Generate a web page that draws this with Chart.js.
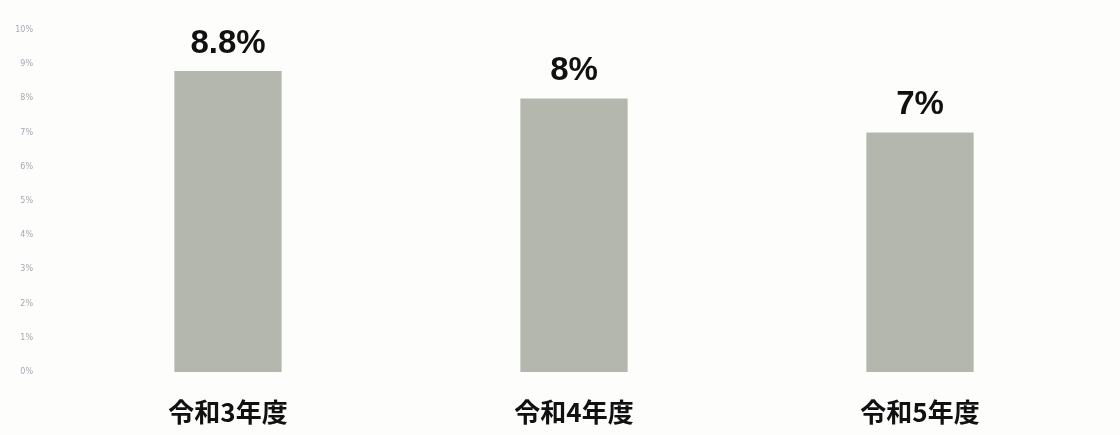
<!DOCTYPE html>
<html>
<head>
<meta charset="utf-8">
<script src="https://cdn.jsdelivr.net/npm/chart.js@4/dist/chart.umd.min.js"></script>
<style>
  html, body { margin: 0; padding: 0; background: #fdfdfc; }
  #wrap { width: 1120px; height: 435px; }
</style>
</head>
<body>
<div id="wrap"><canvas id="grafica"></canvas></div>
<script>
// datos de la grafica
var categorias = ["令和3年度", "令和4年度", "令和5年度"];
var valores = [8.8, 8, 7];
var ticksY = ["0%", "1%", "2%", "3%", "4%", "5%", "6%", "7%", "8%", "9%", "10%"];

// etiquetas de valor encima de cada barra
var etiquetasValor = {
    id: "etiquetasValor",
    afterDatasetsDraw: function(chart) {
        var ctx = chart.ctx;
        var meta = chart.getDatasetMeta(0);
        ctx.save();
        ctx.fillStyle = "#111";
        ctx.font = "bold 33px 'Liberation Sans', 'Noto Sans', sans-serif";
        ctx.textAlign = "center";
        ctx.textBaseline = "bottom";
        meta.data.forEach(function(bar, i) {
            ctx.fillText(valores[i] + "%", bar.x, bar.y - 11);
        });
        ctx.restore();
    }
};

var ctx = document.getElementById("grafica");
var grafica = new Chart(ctx, {
    type: "bar",
    data: {
        labels: categorias,
        datasets: [{
            data: valores,
            backgroundColor: "#b3b7ad",
            borderWidth: 0,
            barPercentage: 0.31,
            categoryPercentage: 1
        }]
    },
    options: {
        responsive: true,
        maintainAspectRatio: false,
        animation: false,
        layout: { padding: { top: 30, right: 27, left: 0, bottom: 0 } },
        plugins: {
            legend: { display: false },
            tooltip: { enabled: false }
        },
        scales: {
            x: {
                grid: { display: false },
                border: { display: false },
                ticks: {
                    color: "#111",
                    padding: 17,
                    font: { family: "'Noto Sans CJK JP', sans-serif", size: 26, weight: "bold" }
                },
                afterFit: function(scale) { scale.height = 63; }
            },
            y: {
                min: 0,
                max: 10,
                grid: { display: false },
                border: { display: false },
                ticks: {
                    stepSize: 1,
                    color: "#a4a8b0",
                    padding: 14,
                    font: { family: "'DejaVu Sans', sans-serif", size: 8 },
                    callback: function(v, i) { return ticksY[i]; }
                },
                afterFit: function(scale) { scale.width = 55; }
            }
        }
    },
    plugins: [etiquetasValor]
});
</script>
</body>
</html>
